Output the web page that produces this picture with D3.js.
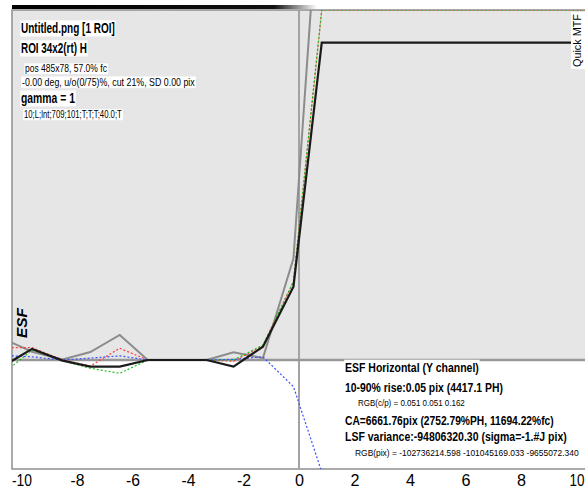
<!DOCTYPE html>
<html>
<head>
<meta charset="utf-8">
<script src="https://cdn.jsdelivr.net/npm/d3@7"></script>
<style>
  body { margin: 0; background: #fff; }
  text { font-family: 'Liberation Sans Narrow', 'Arial Narrow', 'Liberation Sans', Arial, sans-serif; }
</style>
</head>
<body>
<div id="chart"></div>
<script>
// sample positions (pixels from the edge) shared by every ESF curve
var sample_pos = [-10.35, -9.62, -8.52, -7.52, -6.46, -5.45, -4.4, -3.33, -2.36, -1.3, -0.2, 0.82, 10.35];

// ESF values per channel, normalised so the plateau of Y is 1
var esf_y     = [-0.003, 0.035, -0.002, -0.021, -0.021, 0, 0, 0, -0.021, 0.042, 0.231, 1.0, 1.0];
var esf_gray  = [0.055, 0.026, 0.002, 0.025, 0.079, 0, 0, 0, 0.024, 0.006, 0.32, 1.6, 1.6];
var esf_red   = [0.039, 0.039, 0, -0.019, 0.037, 0, 0, 0, -0.004, 0.045, 0.247, 1.103, 1.103];
var esf_green = [-0.021, 0.032, -0.002, -0.026, -0.042, 0, 0, 0, 0.0, 0.047, 0.247, 1.103, 1.103];
var esf_blue  = [0.013, 0.010, 0, 0.006, 0.013, 0, 0, 0, 0.002, 0.010, -0.084, -0.353, -0.353];

var x_ticks = [-10, -8, -6, -4, -2, 0, 2, 4, 6, 8, 10];

var info_lines = [
  'Untitled.png [1 ROI]',
  'ROI 34x2(rt) H',
  'pos 485x78, 57.0% fc',
  '-0.00 deg, u/o(0/75)%, cut 21%, SD 0.00 pix',
  'gamma = 1',
  '10;L;lnt;709;101;T;T;T;40.0;T'
];

var stat_lines = [
  'ESF Horizontal (Y channel)',
  '10-90% rise:0.05 pix (4417.1 PH)',
  'RGB(c/p) = 0.051 0.051 0.162',
  'CA=6661.76pix (2752.79%PH, 11694.22%fc)',
  'LSF variance:-94806320.30 (sigma=-1.#J pix)',
  'RGB(pix) = -102736214.598 -101045169.033 -9655072.340'
];

// layout
var chart_width = 585, chart_height = 494;
var left = 12, top_ = 10, right = 585, bottom = 469;

var svg = d3.select('#chart')
  .append('svg')
  .attr('width', chart_width)
  .attr('height', chart_height);

var x_scale = d3.scaleLinear().domain([-10, 10]).range([21.5, 576.5]);
var y_scale = d3.scaleLinear().domain([0, 1]).range([360, 42.7]);

var defs = svg.append('defs');
defs.append('clipPath').attr('id', 'plot-clip')
  .append('rect')
  .attr('x', left).attr('y', top_)
  .attr('width', right - left).attr('height', bottom - top_);

var grad = defs.append('linearGradient').attr('id', 'top-bar');
grad.append('stop').attr('offset', '0%').attr('stop-color', '#000');
grad.append('stop').attr('offset', '86%').attr('stop-color', '#111');
grad.append('stop').attr('offset', '100%').attr('stop-color', '#fff');

// gray area above the baseline
svg.append('rect')
  .attr('x', left).attr('y', top_)
  .attr('width', right - left)
  .attr('height', y_scale(0) - top_)
  .attr('fill', '#e6e6e6');

// dark strip over the top border
svg.append('rect')
  .attr('x', left).attr('y', 5)
  .attr('width', 305).attr('height', 4)
  .attr('fill', 'url(#top-bar)');

// frame
svg.append('path')
  .attr('d', 'M' + right + ',' + top_ + 'H' + left + 'V' + bottom + 'H' + right)
  .attr('fill', 'none')
  .attr('stroke', '#8f8f8f')
  .attr('stroke-width', 1.5);

// zero lines
svg.append('line')
  .attr('x1', x_scale(0)).attr('x2', x_scale(0))
  .attr('y1', top_).attr('y2', bottom)
  .attr('stroke', '#a3a3a3').attr('stroke-width', 2);

svg.append('line')
  .attr('x1', left).attr('x2', right)
  .attr('y1', y_scale(0)).attr('y2', y_scale(0))
  .attr('stroke', '#989898').attr('stroke-width', 2.5);

// curves
var line = d3.line()
  .x((d) => x_scale(d[0]))
  .y((d) => y_scale(d[1]));

var curves = svg.append('g').attr('clip-path', 'url(#plot-clip)');

var series = [
  {values: esf_gray,  color: '#8c8c8c', width: 2,   dash: null},
  {values: esf_red,   color: '#ff3b3b', width: 1.2, dash: '2,2'},
  {values: esf_green, color: '#1fbf1f', width: 1.2, dash: '2,2'},
  {values: esf_blue,  color: '#3a50ff', width: 1.2, dash: '2,2'},
  {values: esf_y,     color: '#1a1a1a', width: 2.2, dash: null}
];

curves.selectAll('path')
  .data(series)
  .enter()
  .append('path')
  .attr('d', (d) => line(d3.zip(sample_pos, d.values)))
  .attr('fill', 'none')
  .attr('stroke', (d) => d.color)
  .attr('stroke-width', (d) => d.width)
  .attr('stroke-dasharray', (d) => d.dash)
  .attr('stroke-dashoffset', (d, i) => i == 2 ? 2 : 0);

// text squeezed horizontally to a given width, white box behind it
function boxed_text(str, px, py, size, weight, fit) {
  var g = svg.append('g');
  var t = g.append('text')
    .text(str)
    .attr('font-size', size)
    .attr('font-weight', weight)
    .attr('fill', '#000');
  var sx = fit / t.node().getComputedTextLength();
  g.attr('transform', 'translate(' + px + ',' + py + ') scale(' + sx + ',1)');
  var b = t.node().getBBox();
  g.insert('rect', 'text')
    .attr('x', b.x - 1).attr('y', b.y)
    .attr('width', b.width + 2).attr('height', b.height)
    .attr('fill', '#fff');
  return t;
}

var info_style = [
  {y: 33,  size: 14,  weight: 'bold',   x: 21, w: 94},
  {y: 53,  size: 14,  weight: 'bold',   x: 21, w: 66},
  {y: 72,  size: 10,  weight: 'normal', x: 25, w: 82},
  {y: 86,  size: 10,  weight: 'normal', x: 22, w: 173},
  {y: 103, size: 14,  weight: 'bold',   x: 21, w: 54},
  {y: 118, size: 10,  weight: 'normal', x: 24, w: 98}
];

info_lines.forEach(function(s, i) {
  var st = info_style[i];
  boxed_text(s, st.x, st.y, st.size, st.weight, st.w);
});

var stat_style = [
  {y: 372, size: 13.5, weight: 'bold',   x: 345, w: 134},
  {y: 392, size: 13.5, weight: 'bold',   x: 345, w: 158},
  {y: 406, size: 9.5,  weight: 'normal', x: 358, w: 107},
  {y: 425, size: 13.5, weight: 'bold',   x: 345, w: 209},
  {y: 441, size: 13.5, weight: 'bold',   x: 345, w: 222},
  {y: 456, size: 9.5,  weight: 'normal', x: 355, w: 224}
];

stat_lines.forEach(function(s, i) {
  var st = stat_style[i];
  boxed_text(s, st.x, st.y, st.size, st.weight, st.w);
});

// rotated labels
svg.append('text')
  .text('ESF')
  .attr('transform', 'translate(26.5,338) rotate(-90)')
  .attr('font-size', 15)
  .attr('font-weight', 'bold')
  .attr('font-style', 'italic')
  .attr('textLength', 30)
  .attr('lengthAdjust', 'spacingAndGlyphs');

svg.append('rect')
  .attr('x', 571).attr('y', 12)
  .attr('width', 14).attr('height', 57)
  .attr('fill', '#fff');

svg.append('text')
  .text('Quick MTF')
  .attr('transform', 'translate(580.5,67) rotate(-90)')
  .attr('font-size', 11)
  .attr('textLength', 53)
  .attr('lengthAdjust', 'spacingAndGlyphs');

// x axis labels, plain hyphen for negatives, squeezed like the rest
var axis = svg.append('g')
  .attr('transform', 'translate(0,' + bottom + ')')
  .call(d3.axisBottom(x_scale).tickValues(x_ticks).tickSize(0).tickPadding(6).tickFormat((d) => String(d)));

axis.select('.domain').remove();
axis.selectAll('text')
  .attr('font-family', null)
  .attr('font-size', 16)
  .attr('fill', '#000')
  .attr('dy', '0.71em')
  .each(function(d) {
    var w = d < 0 ? (d <= -10 ? 20 : 14) : (d >= 10 ? 15 : 9);
    var sx = w / this.getComputedTextLength();
    d3.select(this).attr('transform', 'scale(' + sx + ',1)');
  });
</script>
</body>
</html>
